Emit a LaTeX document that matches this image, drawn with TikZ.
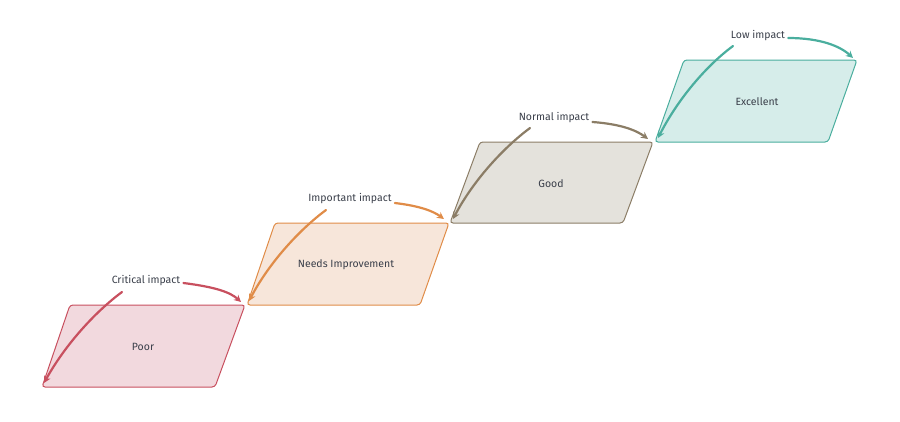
\documentclass[tikz,border=0pt]{standalone}
\usepackage{fontspec}
\setmainfont{Fira Sans}
\usetikzlibrary{arrows.meta}
\definecolor{cr}{HTML}{C8505F}\definecolor{fr}{HTML}{F2D9DE}
\definecolor{co}{HTML}{E08C48}\definecolor{fo}{HTML}{F7E6DA}
\definecolor{cb}{HTML}{8B7D66}\definecolor{fb}{HTML}{E4E2DC}
\definecolor{ct}{HTML}{4AAE9E}\definecolor{ft}{HTML}{D6EDEA}
\definecolor{tx}{HTML}{3A3F4A}
\begin{document}
\begin{tikzpicture}[x=1pt,y=-1pt,
 lbl/.style={font=\fontsize{10.5}{12}\selectfont,text=tx,inner sep=1pt},
 arr/.style={line width=2.2pt,-{Stealth[length=7pt,width=7pt]},line cap=round},
 box/.style={line width=1pt,rounded corners=3pt}]
\useasboundingbox (0,0) rectangle (900,421);
% boxes
\draw[box,draw=cr,fill=fr] (70,305) -- (245,305) -- (215,387) -- (42,387) -- cycle;
\draw[box,draw=co,fill=fo] (275,223) -- (449,223) -- (420,305) -- (247,305) -- cycle;
\draw[box,draw=cb,fill=fb] (480,142) -- (653,142) -- (623,223) -- (450,223) -- cycle;
\draw[box,draw=ct,fill=ft] (684,60) -- (857,60) -- (828,142) -- (655,142) -- cycle;
\node[lbl] (p) at (143,347) {Poor};
\node[lbl] (n) at (346,265) {Needs Improvement};
\node[lbl] (g) at (551,184) {Good};
\node[lbl] (e) at (757,102) {Excellent};
\node[lbl] (l1) at (146,281) {Critical impact};
\node[lbl] (l2) at (350,199) {Important impact};
\node[lbl] (l3) at (554,118) {Normal impact};
\node[lbl] (l4) at (758,36) {Low impact};
\coordinate (p0) at (44,383); \coordinate (p1) at (241,302);
\coordinate (n0) at (249,301); \coordinate (n1) at (444,219);
\coordinate (g0) at (453,219); \coordinate (g1) at (648,139);
\coordinate (e0) at (658,138); \coordinate (e1) at (853,58);
\draw[arr,cr] (122,292) .. controls (95,312) and (65,345) .. (p0);
\draw[arr,cr] (l1.east) ++(2,2) .. controls (215,287) and (230,292) .. (p1);
\draw[arr,co] (326,210) .. controls (299,230) and (269,263) .. (n0);
\draw[arr,co] (l2.east) ++(2,4) .. controls (420,206) and (433,211) .. (n1);
\draw[arr,cb] (530,128) .. controls (503,148) and (473,181) .. (g0);
\draw[arr,cb] (l3.east) ++(2,4) .. controls (620,124) and (636,130) .. (g1);
\draw[arr,ct] (733,46) .. controls (706,66) and (678,99) .. (e0);
\draw[arr,ct] (l4.east) ++(2,2) .. controls (820,38) and (840,46) .. (e1);
\end{tikzpicture}
\end{document}
